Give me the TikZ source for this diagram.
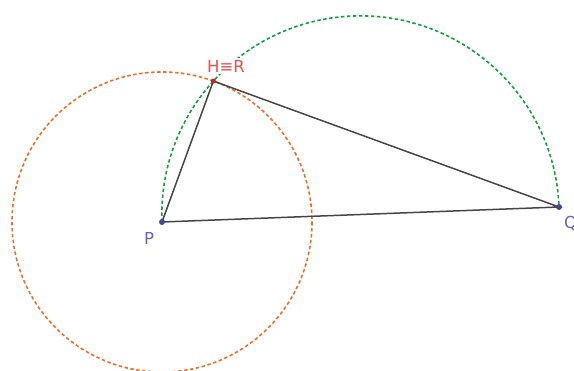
\documentclass[tikz,border=0pt]{standalone}
\usepackage{fontspec}
\setmainfont{DejaVu Sans}
\definecolor{orng}{RGB}{238,110,40}
\definecolor{grn}{RGB}{20,160,60}
\definecolor{segc}{RGB}{70,70,70}
\definecolor{ptblue}{RGB}{70,70,150}
\definecolor{lblblue}{RGB}{100,100,185}
\definecolor{ptred}{RGB}{190,40,40}
\definecolor{lblred}{RGB}{235,80,80}
\tikzset{
  circ/.style={line width=1.6pt, dash pattern=on 3.5pt off 2.5pt},
  seg/.style={segc, line width=1.5pt},
  pt/.style={circle, fill=#1, inner sep=0pt, minimum size=6pt},
  lbl/.style={font=\fontsize{16.5}{16.5}\selectfont, inner sep=0pt}
}
\begin{document}
\begin{tikzpicture}[x=1pt,y=-1pt]
\useasboundingbox (0,0) rectangle (574,371);
\coordinate (Pc) at (162,222);
\coordinate (Qc) at (559,207);
\coordinate (Hc) at ({162+150*cos(69.97)},{222-150*sin(69.97)});
% orange circle centred at P through H
\draw[circ, orng] (Pc) circle[radius=150];
% green semicircle on PQ
\draw[circ, grn] (Pc) arc[start angle={180-2.163}, end angle={360-2.163}, radius=198.64];
% triangle
\draw[seg] (Pc) -- (Hc) -- (Qc) -- cycle;
\node[pt=ptblue] (P) at (Pc) {};
\node[pt=ptblue] (Q) at (Qc) {};
\node[pt=ptred, minimum size=5pt] (H) at (Hc) {};
\node[lbl, text=lblblue] (Pl) at (149,238) {P};
\node[lbl, text=lblblue, anchor=west] (Ql) at (564,223) {Q};
\node[lbl, text=lblred, fill=white, inner sep=1.5pt] (Hl) at (226,66) {H≡R};
\end{tikzpicture}
\end{document}
